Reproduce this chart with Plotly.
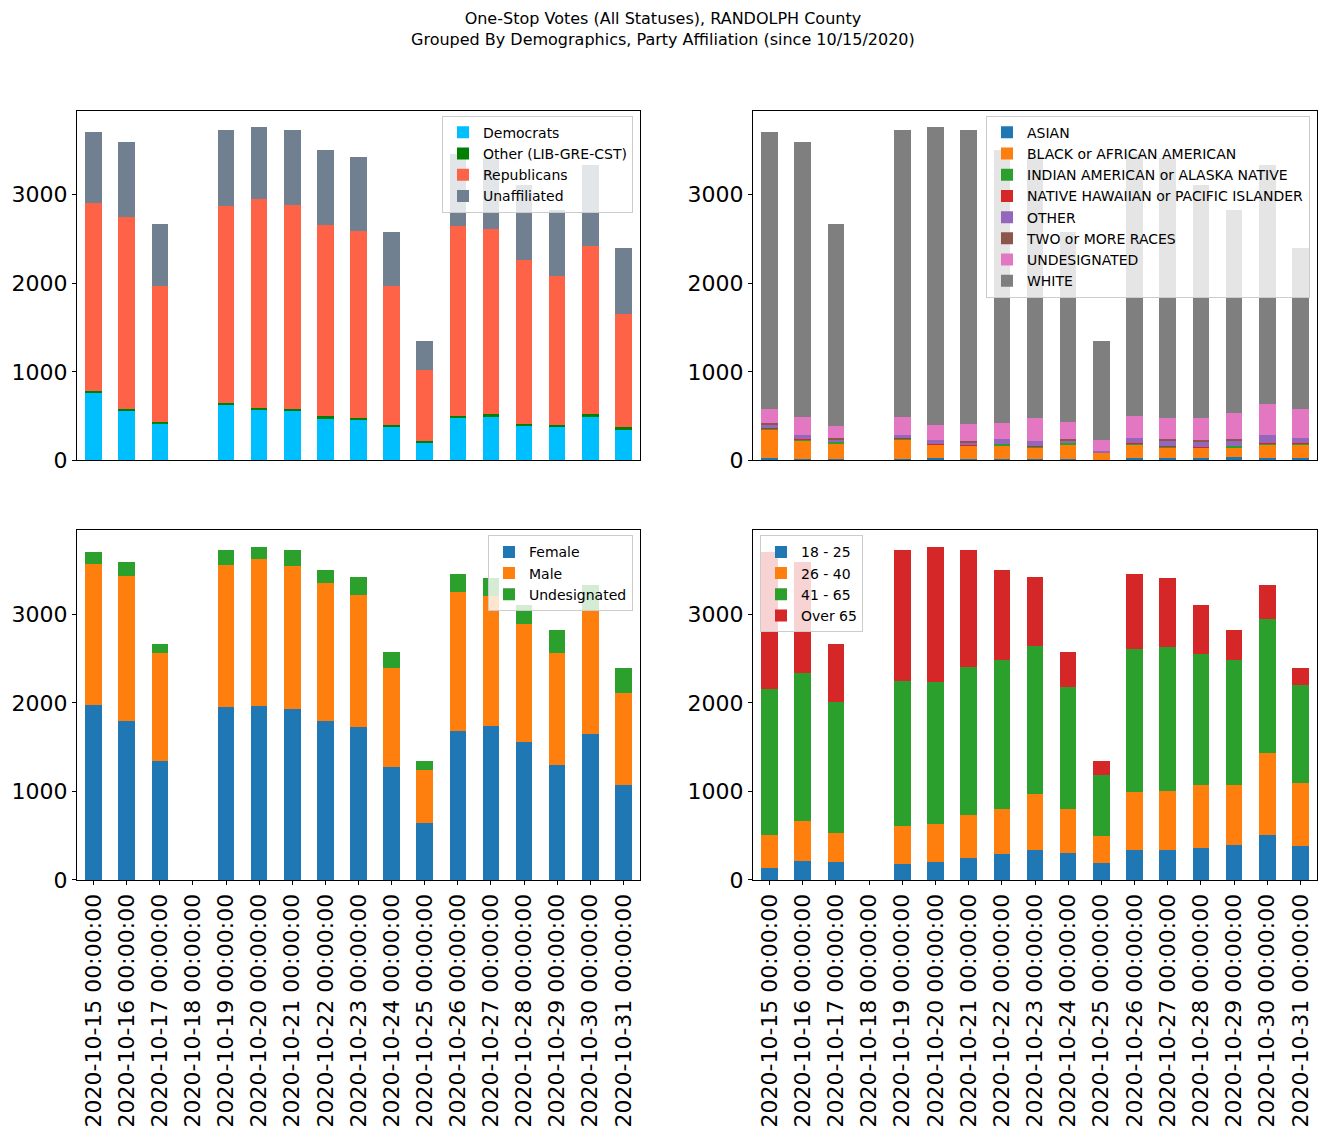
import plotly.graph_objects as go

W, H = 1326, 1137

dates = ["2020-10-%02d 00:00:00" % d for d in range(15, 32)]

# Party affiliation
democrats = [768, 565, 418, 0, 632, 576, 565, 478, 463, 384, 203, 474, 497, 395, 384, 497, 339]
other_party = [19, 11, 11, 0, 12, 11, 11, 22, 11, 11, 12, 23, 22, 11, 11, 22, 34]
republicans = [2115, 2168, 1539, 0, 2228, 2360, 2303, 2153, 2112, 1573, 805, 2149, 2089, 1852, 1686, 1901, 1279]
unaffiliated = [801, 846, 697, 0, 854, 813, 847, 847, 835, 606, 324, 809, 802, 847, 742, 911, 742]

# Race
asian = [23, 11, 11, 0, 11, 23, 11, 11, 11, 11, 0, 23, 23, 23, 34, 23, 23]
black = [327, 219, 185, 0, 230, 158, 158, 158, 136, 170, 90, 158, 124, 124, 113, 158, 158]
indian = [11, 11, 8, 0, 7, 2, 0, 11, 11, 11, 0, 11, 11, 0, 11, 11, 11]
nhpi = [2, 1, 0, 0, 1, 1, 1, 0, 1, 0, 0, 1, 1, 1, 0, 1, 1]
other_race = [45, 41, 34, 0, 34, 45, 34, 56, 57, 34, 11, 56, 68, 68, 68, 91, 56]
two_more = [12, 0, 11, 0, 0, 0, 11, 0, 0, 11, 0, 0, 11, 11, 11, 0, 0]
undes_race = [158, 204, 136, 0, 204, 169, 191, 181, 259, 192, 124, 249, 237, 248, 294, 350, 328]
white = [3125, 3103, 2280, 0, 3239, 3362, 3320, 3083, 2946, 2145, 1119, 2957, 2935, 2630, 2292, 2697, 1817]

# Gender
female = [1976, 1795, 1344, 0, 1953, 1965, 1931, 1795, 1728, 1276, 644, 1682, 1739, 1558, 1298, 1648, 1073]
male = [1596, 1641, 1219, 0, 1604, 1659, 1614, 1558, 1490, 1121, 598, 1570, 1468, 1332, 1265, 1389, 1038]
undes_gender = [131, 154, 102, 0, 169, 136, 181, 147, 203, 177, 102, 203, 203, 215, 260, 294, 283]

# Age
age_18_25 = [135, 215, 203, 0, 181, 203, 248, 294, 339, 305, 192, 339, 339, 361, 395, 508, 384]
age_26_40 = [373, 451, 328, 0, 429, 429, 486, 508, 632, 497, 305, 655, 666, 712, 678, 926, 711]
age_41_65 = [1649, 1671, 1483, 0, 1637, 1604, 1671, 1682, 1675, 1377, 689, 1614, 1626, 1483, 1415, 1513, 1107]
age_over65 = [1546, 1253, 651, 0, 1479, 1524, 1321, 1016, 775, 395, 158, 847, 779, 549, 335, 384, 192]

tab10 = ["#1f77b4", "#ff7f0e", "#2ca02c", "#d62728", "#9467bd", "#8c564b", "#e377c2", "#7f7f7f"]

panels = [
    ("x", "y", "legend", [
        ("Democrats", democrats, "#00BFFF"),
        ("Other (LIB-GRE-CST)", other_party, "#008000"),
        ("Republicans", republicans, "#FF6347"),
        ("Unaffiliated", unaffiliated, "#708090"),
    ]),
    ("x2", "y2", "legend2", [
        ("ASIAN", asian, tab10[0]),
        ("BLACK or AFRICAN AMERICAN", black, tab10[1]),
        ("INDIAN AMERICAN or ALASKA NATIVE", indian, tab10[2]),
        ("NATIVE HAWAIIAN or PACIFIC ISLANDER", nhpi, tab10[3]),
        ("OTHER", other_race, tab10[4]),
        ("TWO or MORE RACES", two_more, tab10[5]),
        ("UNDESIGNATED", undes_race, tab10[6]),
        ("WHITE", white, tab10[7]),
    ]),
    ("x3", "y3", "legend3", [
        ("Female", female, tab10[0]),
        ("Male", male, tab10[1]),
        ("Undesignated", undes_gender, tab10[2]),
    ]),
    ("x4", "y4", "legend4", [
        ("18 - 25", age_18_25, tab10[0]),
        ("26 - 40", age_26_40, tab10[1]),
        ("41 - 65", age_41_65, tab10[2]),
        ("Over 65", age_over65, tab10[3]),
    ]),
]

fig = go.Figure()
ymax = {}
for xa, ya, lg, series in panels:
    tot = [sum(v[i] for _, v, _ in series) for i in range(len(dates))]
    ymax[ya] = max(tot) * 1.05
    for name, vals, col in series:
        fig.add_trace(go.Bar(
            x=dates, y=vals, name=name, marker=dict(color=col, line=dict(width=0)),
            xaxis=xa, yaxis=ya, legend=lg,
        ))

FONT = "DejaVu Sans"
TICKSIZE = 22


def vy(p):
    # vertical pixel position correction
    return (p + 0.86) / 0.9896


def px_x(a, b):
    return [a / W, b / W]


def px_y(top, bot):
    return [1 - vy(bot) / H, 1 - vy(top) / H]


dom_x = {1: px_x(77, 640), 2: px_x(753, 1317)}
dom_y = {1: px_y(110, 460), 2: px_y(530, 880)}

layout = dict(
    width=W, height=H,
    margin=dict(l=0, r=0, t=0, b=0),
    paper_bgcolor="white", plot_bgcolor="white",
    barmode="stack", bargap=0.5,
    font=dict(family=FONT, color="black"),
    annotations=[dict(
        text="One-Stop Votes (All Statuses), RANDOLPH County<br>Grouped By Demographics, Party Affiliation (since 10/15/2020)",
        xref="paper", yref="paper", x=0.5, xanchor="center",
        y=1 - vy(6) / H, yanchor="top", showarrow=False, align="center",
        font=dict(size=16, family=FONT, color="black"),
    )],
)

axis_common = dict(showline=True, linecolor="black", linewidth=1.2, mirror=True,
                   showgrid=False, zeroline=False)

positions = {"x": (1, 1), "x2": (2, 1), "x3": (1, 2), "x4": (2, 2)}
for xa, ya, lg, series in panels:
    col, row = positions[xa]
    xkey = "xaxis" if xa == "x" else "xaxis" + xa[1:]
    ykey = "yaxis" if ya == "y" else "yaxis" + ya[1:]
    xdict = dict(axis_common, domain=dom_x[col], anchor=ya, type="category",
                 range=[-0.5, len(dates) - 0.5], categoryorder="array", categoryarray=dates)
    if row == 1:
        xdict.update(showticklabels=False, ticks="")
    else:
        xdict.update(showticklabels=True, ticks="outside", ticklen=4, tickwidth=1, tickcolor="black",
                     tickangle=-90, tickfont=dict(size=TICKSIZE, family=FONT, color="black"))
    ydict = dict(axis_common, domain=dom_y[row], anchor=xa, range=[0, ymax[ya]],
                 tickvals=[0, 1000, 2000, 3000], ticks="outside", ticklen=4, tickwidth=1,
                 tickcolor="black", tickfont=dict(size=TICKSIZE, family=FONT, color="black"))
    layout[xkey] = xdict
    layout[ykey] = ydict

leg_common = dict(bgcolor="rgba(255,255,255,0.8)", bordercolor="#cccccc", borderwidth=1,
                  font=dict(size=14, family=FONT, color="black"), tracegroupgap=0,
                  yanchor="top", traceorder="normal")
layout["legend"] = dict(leg_common, x=633 / W, xanchor="right", y=1 - vy(115) / H)
layout["legend2"] = dict(leg_common, x=1310 / W, xanchor="right", y=1 - vy(115) / H)
layout["legend3"] = dict(leg_common, x=633 / W, xanchor="right", y=1 - vy(535) / H)
layout["legend4"] = dict(leg_common, x=760 / W, xanchor="left", y=1 - vy(535) / H)

fig.update_layout(**layout)
fig.write_html("out.html")
